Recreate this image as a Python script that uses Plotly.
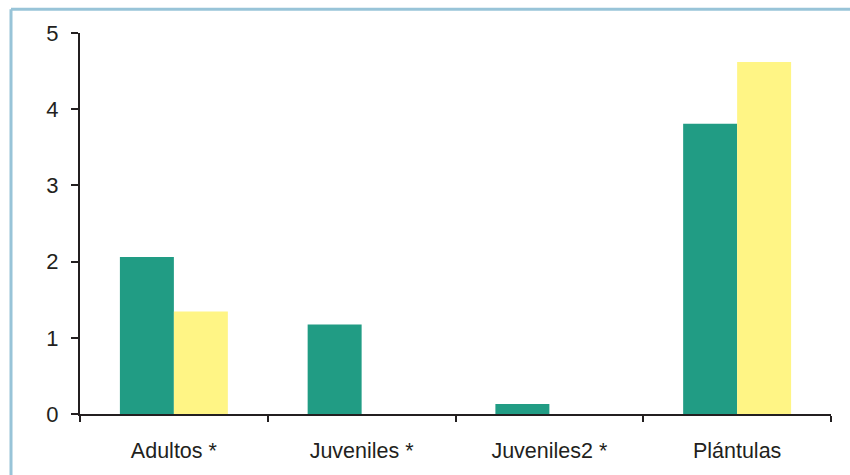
import plotly.graph_objects as go

categories = ["Adultos *", "Juveniles *", "Juveniles2 *", "Plántulas"]
series_a = [2.06, 1.175, 0.13, 3.81]
series_b = [1.345, 0, 0, 4.62]
y_ticks = [0, 1, 2, 3, 4, 5]

GREEN = "#219C84"
YELLOW = "#FFF585"
AXIS = "#231F20"
BORDER = "#98C4D8"

fig = go.Figure()
fig.add_trace(go.Bar(x=categories, y=series_a, marker=dict(color=GREEN, line=dict(width=0)), name="A"))
fig.add_trace(go.Bar(x=categories, y=series_b, marker=dict(color=YELLOW, line=dict(width=0)), name="B"))

W, H = 850, 475
ml, mr, mt, mb = 80, 19, 33, 59
pw, ph = W - ml - mr, H - mt - mb
bx = (11 - ml) / pw
by = (H - mb - 9) / ph

fig.update_layout(
    width=W, height=H,
    margin=dict(l=ml, r=mr, t=mt, b=mb),
    paper_bgcolor="white", plot_bgcolor="white",
    barmode="group", bargap=0.425, bargroupgap=0,
    showlegend=False,
    font=dict(family="Liberation Sans, Arial, sans-serif", size=21, color="#231F20"),
    xaxis=dict(
        showline=True, linecolor=AXIS, linewidth=2,
        ticks="outside", tickson="boundaries", ticklen=6, tickwidth=1.5, tickcolor=AXIS,
        showgrid=False, zeroline=False, ticklabelstandoff=16,
        tickfont=dict(size=21.5),
    ),
    yaxis=dict(
        range=[0, 5], tickvals=y_ticks, showline=True, linecolor=AXIS, linewidth=2,
        ticks="outside", ticklen=7, tickwidth=1.5, tickcolor=AXIS,
        showgrid=False, zeroline=False, ticklabelstandoff=8,
        tickfont=dict(size=22),
    ),
    shapes=[
        dict(type="line", xref="paper", yref="paper",
             x0=bx, x1=bx, y0=-1, y1=by,
             line=dict(color=BORDER, width=3), layer="above"),
        dict(type="line", xref="paper", yref="paper",
             x0=bx, x1=1.2, y0=by, y1=by,
             line=dict(color=BORDER, width=3), layer="above"),
    ],
)

fig.write_html("out.html")
